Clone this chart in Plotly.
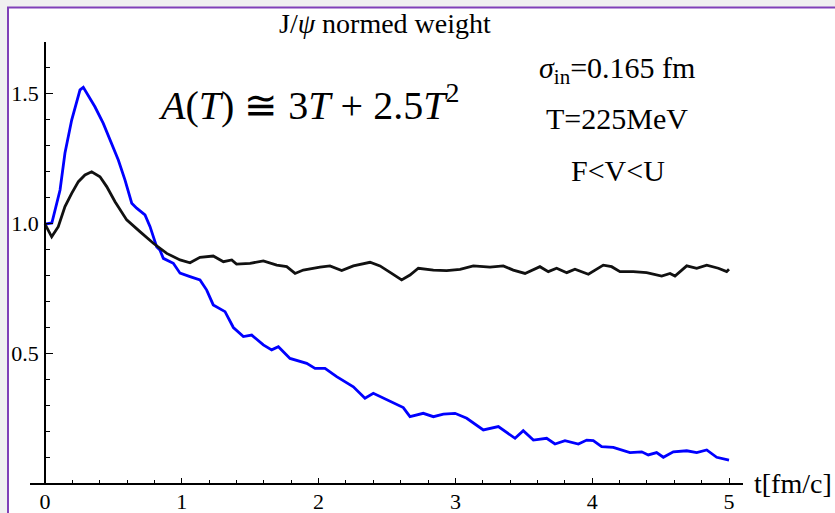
import plotly.graph_objects as go

# ---- data ----
t_blue = [0, 0.05, 0.11, 0.146, 0.195, 0.232, 0.256, 0.28, 0.329, 0.365, 0.426, 0.475, 0.536, 0.585,
          0.634, 0.67, 0.731, 0.768, 0.816, 0.84, 0.865, 0.938, 0.987, 1.06, 1.133, 1.182, 1.23, 1.316,
          1.377, 1.45, 1.511, 1.596, 1.657, 1.706, 1.791, 1.913, 1.974, 2.047, 2.132, 2.254, 2.339, 2.4,
          2.473, 2.546, 2.619, 2.668, 2.765, 2.839, 2.912, 2.997, 3.083, 3.204, 3.314, 3.436, 3.496, 3.57,
          3.667, 3.728, 3.801, 3.899, 3.96, 4.008, 4.069, 4.154, 4.276, 4.362, 4.41, 4.471, 4.52, 4.593,
          4.691, 4.764, 4.837, 4.91, 5.0]
w_blue = [0.996, 1.0, 1.127, 1.269, 1.396, 1.473, 1.512, 1.522, 1.48, 1.447, 1.383, 1.319, 1.242, 1.165,
          1.076, 1.057, 1.031, 0.986, 0.909, 0.896, 0.864, 0.845, 0.807, 0.794, 0.781, 0.742, 0.685, 0.659,
          0.598, 0.563, 0.569, 0.531, 0.512, 0.524, 0.479, 0.46, 0.441, 0.441, 0.409, 0.37, 0.326, 0.345,
          0.326, 0.307, 0.29, 0.255, 0.268, 0.255, 0.265, 0.268, 0.249, 0.204, 0.217, 0.172, 0.201, 0.165,
          0.172, 0.15, 0.163, 0.15, 0.165, 0.163, 0.14, 0.137, 0.117, 0.12, 0.108, 0.117, 0.099, 0.12,
          0.124, 0.117, 0.127, 0.099, 0.088]

t_black = [0, 0.049, 0.097, 0.146, 0.195, 0.244, 0.292, 0.341, 0.402, 0.451, 0.512, 0.597, 0.694, 0.792,
           0.89, 0.987, 1.06, 1.133, 1.23, 1.304, 1.365, 1.40, 1.499, 1.596, 1.694, 1.767, 1.828, 1.888,
           2.01, 2.083, 2.169, 2.254, 2.376, 2.449, 2.534, 2.607, 2.668, 2.729, 2.839, 2.936, 3.034, 3.131,
           3.253, 3.35, 3.423, 3.509, 3.618, 3.679, 3.74, 3.814, 3.874, 3.972, 4.081, 4.142, 4.203, 4.3,
           4.398, 4.508, 4.569, 4.605, 4.691, 4.764, 4.837, 4.922, 4.983, 5.0]
w_black = [0.996, 0.947, 0.986, 1.063, 1.114, 1.159, 1.185, 1.197, 1.178, 1.14, 1.082, 1.012, 0.967, 0.922,
           0.883, 0.858, 0.847, 0.868, 0.873, 0.851, 0.858, 0.842, 0.845, 0.854, 0.838, 0.832, 0.806, 0.819,
           0.83, 0.835, 0.817, 0.835, 0.849, 0.835, 0.806, 0.781, 0.8, 0.826, 0.819, 0.817, 0.822, 0.835,
           0.83, 0.835, 0.819, 0.806, 0.832, 0.813, 0.826, 0.809, 0.822, 0.803, 0.838, 0.832, 0.813, 0.813,
           0.809, 0.796, 0.806, 0.796, 0.835, 0.826, 0.838, 0.826, 0.813, 0.822]

x_ticks = [0, 1, 2, 3, 4, 5]
y_ticks = [0.5, 1.0, 1.5]
y_ticktext = ["0.5", "1.0", "1.5"]

SERIF = "Liberation Serif, Times New Roman, serif"
W, H = 835, 513
L, R, T, B = 30, 92, 42, 30
pw, ph = W - L - R, H - T - B


def px(x):
    return (x - L) / pw


def py(y):
    return (H - B - y) / ph


fig = go.Figure()
fig.add_trace(go.Scatter(x=t_blue, y=w_blue, mode="lines",
                         line=dict(color="#0000ff", width=2.8), showlegend=False))
fig.add_trace(go.Scatter(x=t_black, y=w_black, mode="lines",
                         line=dict(color="#111111", width=2.8), showlegend=False))

fig.update_layout(
    width=W, height=H,
    margin=dict(l=L, r=R, t=T, b=B, autoexpand=False),
    paper_bgcolor="#f0f0f0",
    plot_bgcolor="rgba(0,0,0,0)",
    font=dict(family=SERIF, color="#000000", size=22),
    xaxis=dict(range=[-15 / 136.8, 698 / 136.8], showgrid=False, zeroline=False,
               automargin=False,
               showline=True, linecolor="#000000", linewidth=1.5,
               tickmode="array", tickvals=x_ticks, ticks="inside", ticklen=5,
               tickcolor="#000000", tickwidth=1.2,
               minor=dict(dtick=0.2, tick0=0, ticks="inside", ticklen=3,
                          tickcolor="#000000", tickwidth=1.2),
               tickfont=dict(family=SERIF, size=22, color="#000000"),
               ticklabelstandoff=-2),
    yaxis=dict(range=[0, 441 / 260], showgrid=False, zeroline=False,
               automargin=False,
               anchor="free", position=15 / pw,
               showline=True, linecolor="#000000", linewidth=1.5,
               tickmode="array", tickvals=y_ticks, ticktext=y_ticktext,
               ticks="inside", ticklen=7, tickcolor="#000000", tickwidth=1.2,
               minor=dict(dtick=0.1, tick0=0, ticks="inside", ticklen=4,
                          tickcolor="#000000", tickwidth=1.2),
               tickfont=dict(family=SERIF, size=22, color="#000000"),
               ticklabelstandoff=1),
)

# white panel with purple frame
fig.add_shape(type="rect", xref="paper", yref="paper",
              x0=px(8), x1=px(900), y0=py(560), y1=py(7.5),
              fillcolor="#ffffff", line=dict(color="#8040b8", width=2), layer="below")

annots = [
    dict(text="J/<i>ψ</i> normed weight", x=px(385), y=py(24), size=28),
    dict(text="<i>A</i>(<i>T</i>) ≅ 3<i>T</i> + 2.5<i>T</i><sup>2</sup>", x=px(308), y=py(103), size=40),
    dict(text="<i>σ</i><sub>in</sub>=0.165 fm", x=px(617), y=py(70), size=30),
    dict(text="T=225MeV", x=px(617), y=py(118), size=30),
    dict(text="F&lt;V&lt;U", x=px(618), y=py(170), size=30),
]
for a in annots:
    fig.add_annotation(text=a["text"], x=a["x"], y=a["y"], xref="paper", yref="paper",
                       showarrow=False, xanchor="center", yanchor="middle",
                       font=dict(family=SERIF, size=a["size"], color="#000000"))

fig.add_annotation(text="t[fm/c]", x=px(752), y=py(484), xref="paper", yref="paper",
                   showarrow=False, xanchor="left", yanchor="middle",
                   font=dict(family=SERIF, size=28, color="#000000"))

fig.write_html("out.html")
